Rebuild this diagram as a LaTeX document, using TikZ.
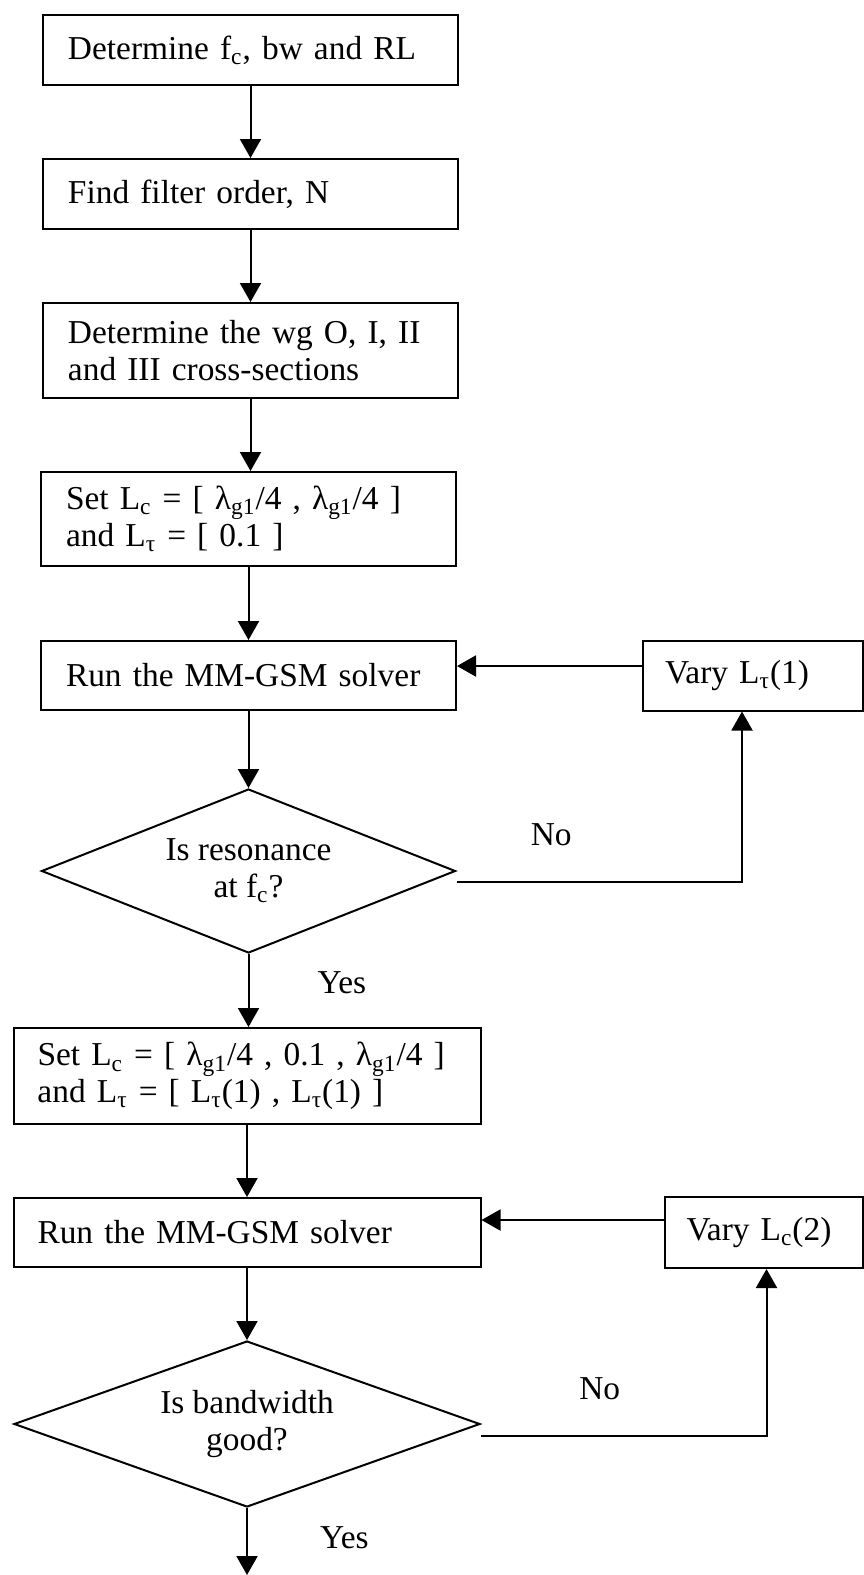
\documentclass[tikz,border=0pt]{standalone}
\usepackage{fontspec}
\setmainfont{Liberation Serif}
\usetikzlibrary{positioning,arrows.meta,shapes.geometric}
\newcommand{\flowfont}{\fontsize{16.7}{18.3}\selectfont}

\begin{document}
\begin{tikzpicture}[
    x=0.5pt, y=-0.5pt,
    procBox/.style={rectangle, draw, line width=1pt, text width=182.5pt, inner xsep=12.5pt, inner ysep=4pt, minimum height=35pt, align=left, font=\flowfont},
    wideBox/.style={procBox, text width=209.5pt, inner xsep=12pt},
    varyBox/.style={procBox, inner xsep=11pt},
    decisionNode/.style={diamond, draw, line width=1pt, inner sep=0pt, align=center, font=\flowfont, aspect=2.52, minimum width=207pt, minimum height=82pt},
    arrowFlow/.style={-{Triangle[length=9.5pt, width=10.5pt]}, line width=1pt},
    answerText/.style={font=\flowfont, inner sep=0pt}
]
    \useasboundingbox (0,0) rectangle (863,1575);

    \node[procBox] (s1) at (250.5,50) {Determine f\textsubscript{c}, bw and RL};
    \node[procBox, below=36pt of s1] (s2) {Find filter order, N};
    \node[procBox, minimum height=47.5pt, below=36pt of s2] (s3) {Determine the wg O, I, II\\and III cross-sections};
    \node[procBox, minimum height=47pt, below=36pt of s3, xshift=-1pt] (s4) {Set L\textsubscript{c} = [ λ\textsubscript{g1}/4 , λ\textsubscript{g1}/4 ]\\and L\textsubscript{τ} = [ 0.1 ]};
    \node[procBox, minimum height=34.5pt, below=36.5pt of s4] (s5) {Run the MM-GSM solver};
    \node[varyBox, text width=88pt, minimum height=35pt, right=92.5pt of s5] (vary1) {Vary L\textsubscript{τ}(1)};
    \node[decisionNode, below=38.5pt of s5] (d1) {Is resonance\\at f\textsubscript{c}?};
    \node[wideBox, minimum height=48pt, below=36.5pt of d1, xshift=-0.75pt] (s6) {Set L\textsubscript{c} = [ λ\textsubscript{g1}/4 , 0.1 , λ\textsubscript{g1}/4 ]\\and L\textsubscript{τ} = [ L\textsubscript{τ}(1) , L\textsubscript{τ}(1) ]};
    \node[wideBox, minimum height=34.5pt, below=36pt of s6] (s7) {Run the MM-GSM solver};
    \node[varyBox, text width=77pt, minimum height=35.5pt, right=91pt of s7] (vary2) {Vary L\textsubscript{c}(2)};
    \node[decisionNode, aspect=2.81, minimum width=233pt, minimum height=83pt, below=36pt of s7] (d2) {Is bandwidth\\good?};
    \coordinate[below=33.5pt of d2] (fin);

    \draw[arrowFlow] (s1) -- (s2);
    \draw[arrowFlow] (s2) -- (s3);
    \draw[arrowFlow] (s3.south) -- (s3.south |- s4.north);
    \draw[arrowFlow] (s4) -- (s5);
    \draw[arrowFlow] (s5) -- (d1);
    \draw[arrowFlow] (d1.south) -- (d1.south |- s6.north)
        node[answerText, pos=0.4, right=34pt] (yes1) {Yes};
    \draw[arrowFlow] (s6) -- (s7);
    \draw[arrowFlow] (s7) -- (d2);
    \draw[arrowFlow] (d2.south) -- (fin)
        node[answerText, pos=0.45, right=36pt] (yes2) {Yes};

    % first loop: resonance check
    \draw[arrowFlow] ([yshift=-5.5pt]d1.east) -| ([xshift=-5.5pt]vary1.south)
        node[answerText, pos=0.166, above=17.5pt] (no1) {No};
    \draw[arrowFlow] ([yshift=4.75pt]vary1.west) coordinate (v1w) -- (s5.east |- v1w);

    % second loop: bandwidth check
    \draw[arrowFlow] ([yshift=-6pt]d2.east) -| ([xshift=1.5pt]vary2.south)
        node[answerText, pos=0.208, above=17.5pt] (no2) {No};
    \draw[arrowFlow] ([yshift=6.25pt]vary2.west) coordinate (v2w) -- (s7.east |- v2w);
\end{tikzpicture}
\end{document}
